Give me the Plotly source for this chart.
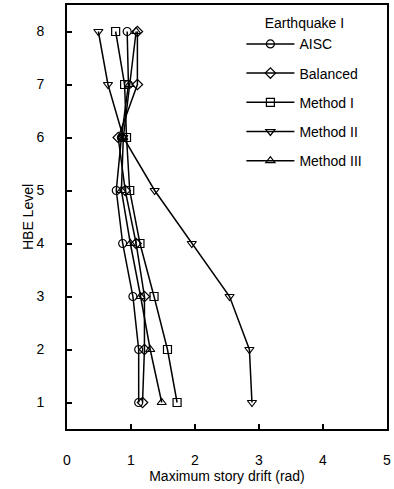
import plotly.graph_objects as go

# HBE levels and maximum story drift per method (Earthquake I)
levels = [1, 2, 3, 4, 5, 6, 7, 8]
aisc = [1.12, 1.12, 1.03, 0.87, 0.77, 0.85, 0.96, 0.94]
balanced = [1.18, 1.21, 1.21, 1.08, 0.91, 0.80, 1.10, 1.10]
method_1 = [1.72, 1.57, 1.36, 1.14, 0.98, 0.93, 0.90, 0.76]
method_2 = [2.89, 2.85, 2.54, 1.95, 1.37, 0.88, 0.64, 0.49]
method_3 = [1.48, 1.30, 1.15, 0.99, 0.85, 0.88, 0.98, 1.08]

series = [
    ("AISC", aisc, "circle-open"),
    ("Balanced", balanced, "diamond-open"),
    ("Method I", method_1, "square-open"),
    ("Method II", method_2, "triangle-down-open"),
    ("Method III", method_3, "triangle-up-open"),
]

fig = go.Figure()
for i, (name, vals, sym) in enumerate(series):
    fig.add_trace(go.Scatter(
        x=vals, y=levels, mode="lines+markers", name=name,
        legendgroup=f"g{i}",
        line=dict(color="black", width=1.5),
        marker=dict(symbol=sym, size=8, color="black", line=dict(width=1.2, color="black")),
    ))

axis_common = dict(
    showline=True, linecolor="black", linewidth=2, mirror=True,
    ticks="inside", ticklen=5, tickcolor="black", tickwidth=1.5,
    showgrid=False, zeroline=False, automargin=False,
    tickfont=dict(size=14, color="black"),
)

fig.update_layout(
    width=394, height=489,
    margin=dict(l=67, r=7, t=5, b=60),
    paper_bgcolor="white", plot_bgcolor="white",
    font=dict(family="Liberation Sans, Arial, sans-serif", color="black", size=13),
    xaxis=dict(range=[0, 5], dtick=1, ticklabelstandoff=17,
               title=dict(text="Maximum story drift (rad)", standoff=0,
                          font=dict(size=14, color="black")),
               **axis_common),
    yaxis=dict(range=[0.5, 8.5], dtick=1, ticklabelstandoff=18,
               title=dict(text="HBE Level", standoff=0,
                          font=dict(size=14, color="black")),
               **axis_common),
    legend=dict(
        title=dict(text="Earthquake I", side="top center", font=dict(size=14)),
        x=0.545, y=0.988, xanchor="left", yanchor="top",
        bgcolor="rgba(0,0,0,0)", tracegroupgap=8, itemwidth=48,
        font=dict(size=14),
    ),
)

# drop the default page margin so the figure sits at the window's corner
fig.write_html("out.html", config={"displayModeBar": False},
               post_script="document.body.style.margin='0';")
